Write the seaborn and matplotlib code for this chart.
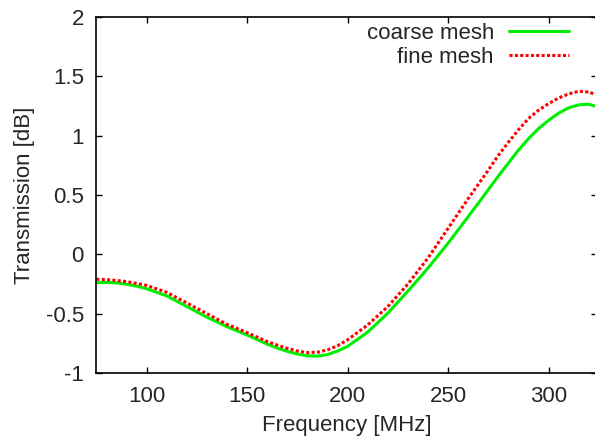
import matplotlib
matplotlib.use("Agg")
import matplotlib.pyplot as plt
import seaborn as sns
import pandas as pd
from matplotlib.ticker import FormatStrFormatter

freq = [75, 80, 85, 90, 95, 100, 110, 120, 130, 140, 150, 160, 165, 170, 175,
        180, 185, 190, 195, 200, 210, 220, 230, 240, 250, 260, 270, 275, 280,
        285, 290, 295, 300, 305, 310, 315, 320, 324]
coarse = [-0.239, -0.237, -0.24, -0.252, -0.268, -0.29, -0.35, -0.44, -0.53,
          -0.61, -0.68, -0.757, -0.79, -0.818, -0.84, -0.855, -0.858, -0.845,
          -0.815, -0.775, -0.655, -0.495, -0.31, -0.115, 0.095, 0.318, 0.545,
          0.66, 0.77, 0.878, 0.975, 1.06, 1.13, 1.19, 1.235, 1.26, 1.265,
          1.245]
fine = [-0.21, -0.213, -0.22, -0.23, -0.245, -0.262, -0.32, -0.41, -0.50,
        -0.59, -0.66, -0.735, -0.765, -0.792, -0.815, -0.828, -0.825, -0.805,
        -0.77, -0.72, -0.595, -0.44, -0.25, -0.03, 0.22, 0.47, 0.71, 0.835,
        0.945, 1.05, 1.145, 1.215, 1.27, 1.318, 1.352, 1.374, 1.368, 1.342]
labels = ["coarse mesh", "fine mesh"]
xticks = [100, 150, 200, 250, 300]
yticks = [-1, -0.5, 0, 0.5, 1, 1.5, 2]

sns.set_style("ticks")
plt.rcParams['font.family'] = ['Liberation Sans', 'DejaVu Sans']
plt.rcParams['axes.unicode_minus'] = False

W, H = 595, 446
fig = plt.figure(figsize=(W / 100, H / 100), dpi=100)
ax = fig.add_axes([96.4 / W, 73 / H, (597 - 96.4) / W, 356 / H])

df = pd.DataFrame({"freq": freq, "coarse": coarse, "fine": fine})
sns.lineplot(data=df, x="freq", y="coarse", ax=ax, color="#00ee00",
             lw=2.2, label=labels[0])
sns.lineplot(data=df, x="freq", y="fine", ax=ax, color="#ff0000",
             lw=2.2, label=labels[1])
ax.lines[1].set_dashes((1.0, 0.75))
ax.lines[1].set_dash_capstyle('butt')

ax.set_xlim(75, 75 + (597 - 96.4) / 2.01)
ax.set_ylim(-1, 2)
ax.set_xticks(xticks)
ax.set_yticks(yticks)
ax.yaxis.set_major_formatter(FormatStrFormatter('%g'))
ax.tick_params(direction='in', length=4.3, width=1.0, top=True, right=True,
               labelsize=16, pad=9, color='black')
for s in ax.spines.values():
    s.set_linewidth(1.2)
    s.set_color('black')

ax.set_xlabel("Frequency [MHz]", fontsize=16, labelpad=6)
ax.set_ylabel("Transmission [dB]", fontsize=16, labelpad=8)

leg = ax.legend(loc='upper right', bbox_to_anchor=(569 / W, (H - 23) / H),
                bbox_transform=fig.transFigure, frameon=False, fontsize=16,
                markerfirst=False, handlelength=2.7, handletextpad=0.68,
                labelspacing=0.12, borderpad=0, borderaxespad=0)
for line in leg.get_lines():
    line.set_linewidth(2.2)
leg.get_lines()[1].set_dashes((1.0, 0.75))

fig.savefig("out.png", dpi=100)
